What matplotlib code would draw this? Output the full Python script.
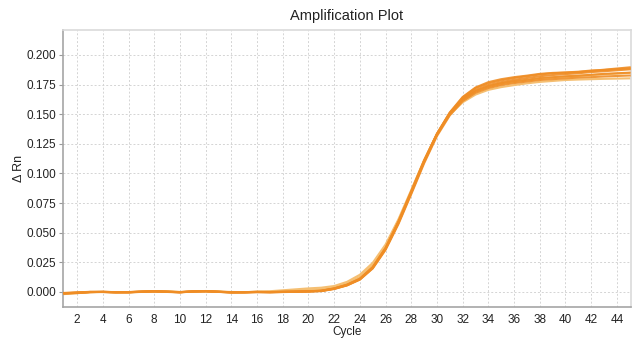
import matplotlib
matplotlib.use('Agg')
from matplotlib import pyplot as plt
import numpy as np

plt.rcParams['font.family'] = ['Liberation Sans', 'DejaVu Sans']

cycles = list(range(1, 46))

s1 = [-0.001, -0.001, 0.000, 0.000, -0.0003, -0.0002, 0.0002, 0.0006, 0.0002, -0.0003,
      0.0004, 0.0006, 0.0001, -0.0004, -0.0003, 0.0000, -0.0002, 0.0000, 0.0002, 0.0005,
      0.0009, 0.0028, 0.0058, 0.0108, 0.0205, 0.0365, 0.0585, 0.0840, 0.1100, 0.1330,
      0.1510, 0.1640, 0.1720, 0.1760, 0.1785, 0.1805, 0.1820, 0.1835, 0.1845, 0.1850,
      0.1855, 0.1865, 0.1875, 0.1885, 0.1895]
s2 = [-0.0015, -0.0008, -0.0002, 0.0001, -0.0002, -0.0004, 0.0001, 0.0004, 0.0003, -0.0001,
      0.0003, 0.0008, 0.0002, -0.0002, -0.0004, -0.0001, -0.0003, -0.0001, 0.0001, 0.0004,
      0.0007, 0.0025, 0.0055, 0.0105, 0.0200, 0.0360, 0.0580, 0.0835, 0.1095, 0.1325,
      0.1505, 0.1630, 0.1705, 0.1745, 0.1770, 0.1790, 0.1805, 0.1820, 0.1830, 0.1838,
      0.1845, 0.1855, 0.1862, 0.1870, 0.1878]
s3 = [-0.0008, -0.0004, 0.0001, -0.0001, -0.0004, -0.0001, 0.0003, 0.0007, 0.0001, -0.0002,
      0.0005, 0.0005, 0.0000, -0.0003, -0.0002, 0.0001, -0.0001, 0.0002, 0.0003, 0.0006,
      0.0011, 0.0030, 0.0062, 0.0112, 0.0210, 0.0372, 0.0595, 0.0850, 0.1110, 0.1335,
      0.1510, 0.1625, 0.1695, 0.1735, 0.1760, 0.1778, 0.1790, 0.1805, 0.1812, 0.1820,
      0.1825, 0.1832, 0.1840, 0.1845, 0.1850]
s4 = [-0.0012, -0.0006, -0.0001, 0.0000, -0.0003, -0.0003, 0.0002, 0.0005, 0.0000, -0.0004,
      0.0004, 0.0007, 0.0001, -0.0005, -0.0003, -0.0002, -0.0002, 0.0000, 0.0002, 0.0004,
      0.0008, 0.0026, 0.0056, 0.0104, 0.0198, 0.0355, 0.0572, 0.0825, 0.1085, 0.1315,
      0.1490, 0.1610, 0.1680, 0.1720, 0.1745, 0.1762, 0.1775, 0.1788, 0.1795, 0.1802,
      0.1808, 0.1812, 0.1818, 0.1822, 0.1826]
s5 = [-0.0010, -0.0005, 0.0000, 0.0001, -0.0002, -0.0002, 0.0003, 0.0006, 0.0002, -0.0002,
      0.0005, 0.0006, 0.0002, -0.0003, -0.0002, 0.0000, -0.0001, 0.0001, 0.0003, 0.0005,
      0.0010, 0.0029, 0.0060, 0.0110, 0.0207, 0.0368, 0.0590, 0.0845, 0.1105, 0.1335,
      0.1515, 0.1645, 0.1725, 0.1770, 0.1795, 0.1812, 0.1825, 0.1840, 0.1848, 0.1852,
      0.1858, 0.1868, 0.1872, 0.1880, 0.1885]
s6 = [-0.0018, -0.0010, -0.0003, 0.0000, -0.0001, -0.0003, 0.0000, 0.0003, 0.0004, 0.0000,
      0.0002, 0.0006, 0.0003, 0.0000, -0.0002, 0.0002, 0.0006, 0.0014, 0.0022, 0.0030,
      0.0036, 0.0050, 0.0085, 0.0145, 0.0245, 0.0400, 0.0612, 0.0860, 0.1112, 0.1330,
      0.1495, 0.1600, 0.1665, 0.1705, 0.1728, 0.1745, 0.1760, 0.1772, 0.1780, 0.1788,
      0.1792, 0.1795, 0.1798, 0.1800, 0.1802]
s7 = [-0.0012, -0.0007, -0.0001, 0.0001, -0.0002, -0.0001, 0.0002, 0.0005, 0.0003, -0.0001,
      0.0003, 0.0006, 0.0002, -0.0002, -0.0002, 0.0001, 0.0002, 0.0006, 0.0012, 0.0018,
      0.0024, 0.0040, 0.0074, 0.0128, 0.0228, 0.0386, 0.0602, 0.0852, 0.1108, 0.1332,
      0.1505, 0.1620, 0.1690, 0.1730, 0.1755, 0.1772, 0.1785, 0.1798, 0.1808, 0.1815,
      0.1822, 0.1830, 0.1836, 0.1842, 0.1848]

light = [s6, s7]
dark = [s1, s2, s3, s4, s5]

x_ticks = list(range(2, 45, 2))
y_ticks = [0.0, 0.025, 0.05, 0.075, 0.1, 0.125, 0.15, 0.175, 0.2]

fig = plt.figure(figsize=(6.33, 3.38), dpi=100)
ax = fig.add_axes([63 / 633, 31 / 338, 568 / 633, 277 / 338])

for s in light:
	ax.plot(cycles, s, color='#f5bf72', lw=1.5, zorder=2)
for s in dark:
	ax.plot(cycles, s, color='#ef8d25', lw=1.5, alpha=0.9, zorder=3)

ax.set_xlim(0.9, 45.1)
ax.set_ylim(-0.0127, 0.221)
ax.set_xticks(x_ticks)
ax.set_yticks(y_ticks)
ax.set_yticklabels([f'{v:.3f}' for v in y_ticks])
ax.tick_params(labelsize=8.5, colors='#222222', length=3, pad=2)
ax.tick_params(axis='both', color='#999999')
ax.tick_params(axis='x', pad=5, length=0)

ax.grid(True, color='#d4d4d4', linestyle=(0, (2, 2)), lw=0.7)
ax.set_axisbelow(True)
for side in ['left', 'bottom']:
	ax.spines[side].set_color('#a5a5a5')
	ax.spines[side].set_linewidth(1.2)
for side in ['top', 'right']:
	ax.spines[side].set_color('#dadada')
	ax.spines[side].set_linewidth(1.2)

ax.set_title('Amplification Plot', fontsize=10.5, color='#222222', pad=7)
ax.set_ylabel('Δ Rn', fontsize=9, color='#222222', labelpad=1)
fig.text(347 / 633, 0, 'Cycle', ha='center', va='bottom', fontsize=8.5, color='#222222')

plt.savefig('out.png', dpi=100)
